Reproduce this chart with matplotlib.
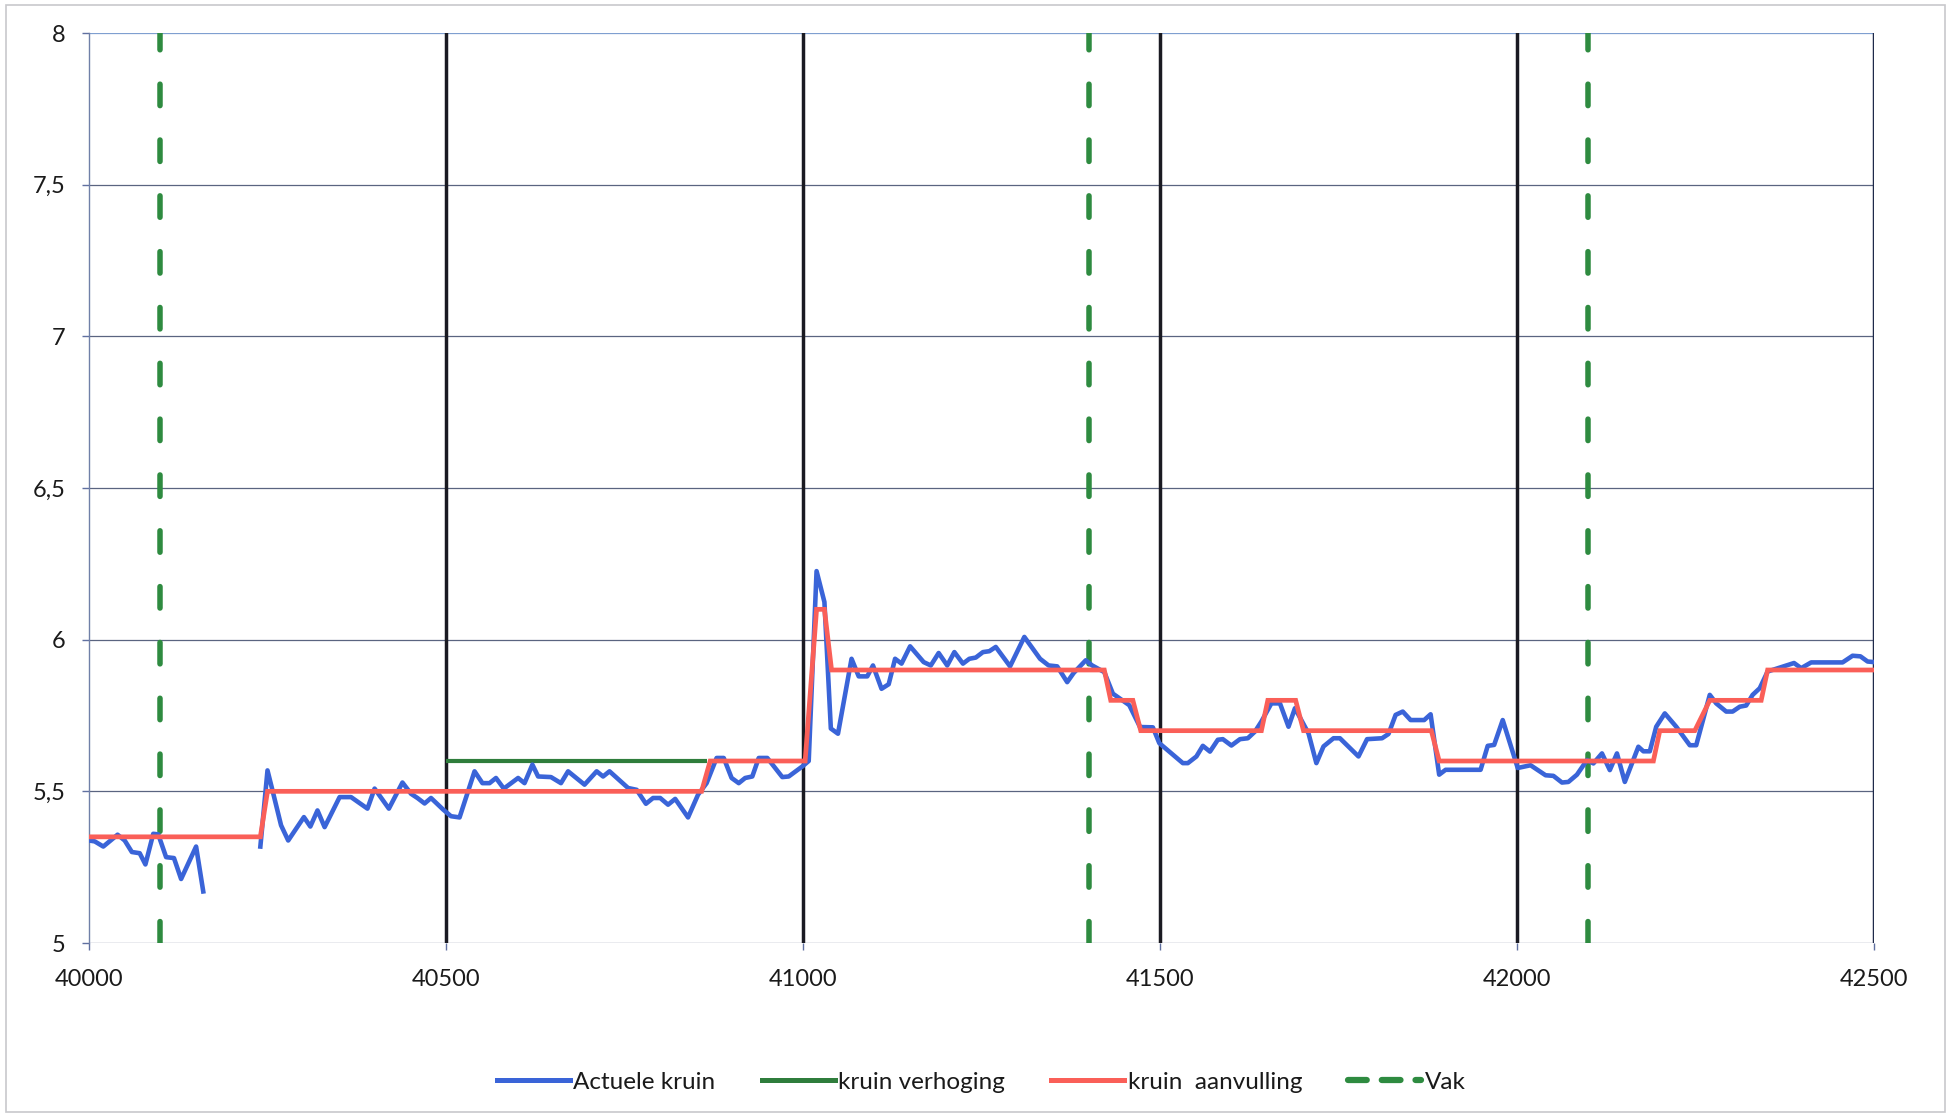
import numpy as np
import matplotlib
matplotlib.use("Agg")
import matplotlib.pyplot as plt
from matplotlib.patches import Rectangle
from matplotlib.lines import Line2D
from matplotlib.ticker import FuncFormatter

plt.rcParams['font.family'] = ['Lato', 'DejaVu Sans']

# Actuele kruin (measured crest height); NaN marks the missing stretch
actueel_x = [40000, 40008, 40020, 40040, 40050, 40060, 40071, 40079, 40090, 40097,
             40108, 40119, 40129, 40150, 40160, 40200,
             40240, 40250, 40257, 40269, 40279, 40301, 40310, 40320, 40330, 40351,
             40367, 40390, 40400, 40420, 40439, 40451, 40460, 40470, 40479, 40496,
             40507, 40519, 40540, 40551, 40561, 40570, 40581, 40601, 40610, 40621,
             40629, 40647, 40661, 40671, 40694, 40711, 40720, 40729, 40755, 40767,
             40780, 40790, 40800, 40811, 40821, 40839, 40853, 40865, 40879, 40889,
             40900, 40910, 40919, 40929, 40938, 40950, 40971, 40980, 40999, 41008,
             41019, 41030, 41039, 41049, 41068, 41078, 41090, 41098, 41110, 41120,
             41129, 41138, 41150, 41169, 41179, 41190, 41202, 41212, 41224, 41233,
             41242, 41252, 41261, 41270, 41290, 41310, 41332, 41344, 41356, 41370,
             41379, 41396, 41405, 41422, 41434, 41457, 41472, 41490, 41499, 41513,
             41532, 41539, 41551, 41560, 41570, 41581, 41588, 41600, 41612, 41623,
             41633, 41642, 41656, 41668, 41680, 41689, 41708, 41719, 41729, 41743,
             41752, 41778, 41790, 41811, 41820, 41830, 41840, 41851, 41870, 41879,
             41891, 41900, 41949, 41959, 41968, 41980, 42001, 42019, 42040, 42051,
             42063, 42072, 42084, 42098, 42107, 42119, 42130, 42140, 42151, 42170,
             42177, 42186, 42195, 42207, 42223, 42242, 42251, 42270, 42279, 42293,
             42302, 42312, 42321, 42330, 42340, 42351, 42388, 42398, 42412, 42456,
             42470, 42481, 42491, 42500]
actueel_y = [5.338, 5.335, 5.318, 5.357, 5.338, 5.300, 5.296, 5.259, 5.360, 5.358,
             5.283, 5.280, 5.211, 5.318, 5.170, np.nan,
             5.318, 5.569, 5.503, 5.388, 5.338, 5.415, 5.384, 5.437, 5.382, 5.481,
             5.481, 5.443, 5.509, 5.443, 5.529, 5.492, 5.478, 5.460, 5.478, 5.440,
             5.418, 5.414, 5.566, 5.527, 5.527, 5.544, 5.509, 5.544, 5.527, 5.588,
             5.549, 5.547, 5.527, 5.566, 5.522, 5.566, 5.549, 5.566, 5.511, 5.505,
             5.459, 5.478, 5.478, 5.456, 5.475, 5.414, 5.489, 5.527, 5.610, 5.610,
             5.544, 5.527, 5.544, 5.549, 5.610, 5.610, 5.547, 5.549, 5.582, 5.600,
             6.226, 6.124, 5.707, 5.690, 5.937, 5.879, 5.879, 5.915, 5.838, 5.853,
             5.937, 5.921, 5.978, 5.926, 5.915, 5.956, 5.915, 5.959, 5.921, 5.937,
             5.941, 5.959, 5.962, 5.976, 5.912, 6.009, 5.937, 5.915, 5.912, 5.860,
             5.890, 5.932, 5.915, 5.893, 5.822, 5.784, 5.712, 5.711, 5.659, 5.631,
             5.593, 5.593, 5.615, 5.650, 5.631, 5.670, 5.672, 5.651, 5.672, 5.675,
             5.697, 5.730, 5.790, 5.790, 5.713, 5.774, 5.691, 5.593, 5.648, 5.675,
             5.675, 5.615, 5.672, 5.675, 5.689, 5.752, 5.763, 5.735, 5.735, 5.754,
             5.555, 5.571, 5.571, 5.650, 5.653, 5.735, 5.577, 5.586, 5.553, 5.551,
             5.529, 5.531, 5.555, 5.603, 5.592, 5.625, 5.570, 5.625, 5.531, 5.647,
             5.632, 5.632, 5.713, 5.757, 5.713, 5.652, 5.652, 5.818, 5.790, 5.763,
             5.763, 5.779, 5.783, 5.818, 5.840, 5.895, 5.923, 5.906, 5.925, 5.925,
             5.947, 5.945, 5.928, 5.926]

# kruin verhoging (crest raising)
verhoging_x = [40500, 40865]
verhoging_y = [5.6, 5.6]

# kruin aanvulling (crest supplement), stepped profile
aanvulling_x = [40000, 40240, 40250, 40858, 40870, 41003, 41019, 41030, 41040, 41422,
                41431, 41462, 41473, 41642, 41651, 41690, 41701, 41880, 41891, 42191,
                42200, 42249, 42270, 42342, 42351, 42500]
aanvulling_y = [5.35, 5.35, 5.5, 5.5, 5.6, 5.6, 6.1, 6.1, 5.9, 5.9,
                5.8, 5.8, 5.7, 5.7, 5.8, 5.8, 5.7, 5.7, 5.6, 5.6,
                5.7, 5.7, 5.8, 5.8, 5.9, 5.9]

# Vak boundaries
vak_x = [40100, 41400, 42100]

# Section boundaries drawn as dark vertical lines
sectie_x = [40500, 41000, 41500, 42000, 42500]

x_ticks = [40000, 40500, 41000, 41500, 42000, 42500]
y_ticks = [5, 5.5, 6, 6.5, 7, 7.5, 8]

W, H = 1951, 1116
fig = plt.figure(figsize=(W / 100, H / 100), dpi=100)
fig.patch.set_facecolor('white')

# Outer chart frame
fig.add_artist(Rectangle((6 / W, 4 / H), (1945 - 6) / W, (1111 - 4) / H,
                         transform=fig.transFigure, fill=False,
                         edgecolor='#c8c8cc', linewidth=1.2))

ax = fig.add_axes([89 / W, 1 - 943 / H, (1874 - 89) / W, (943 - 33) / H])
ax.set_xlim(40000, 42500)
ax.set_ylim(5, 8)

blue = '#3a64d8'
green = '#2f7d3c'
red = '#fa5f58'
vak_green = '#2e8b40'

# Horizontal gridlines
for yv in y_ticks:
    col = '#7f9fd0' if yv == 8 else '#5a6480'
    ax.axhline(yv, color=col, linewidth=0.9, zorder=1)

for xv in sectie_x:
    col = '#1f2a4a' if xv == 42500 else '#1a1a22'
    ax.axvline(xv, color=col, linewidth=2.5, zorder=2)

vak_dash = (0, (3.9, 6.25))
for xv in vak_x:
    ax.axvline(xv, color=vak_green, linewidth=3.96, linestyle=vak_dash,
               dash_capstyle='round', zorder=3)

ax.plot(verhoging_x, verhoging_y, color=green, linewidth=3.0, zorder=4,
        solid_capstyle='butt')
ax.plot(actueel_x, actueel_y, color=blue, linewidth=3.3, zorder=5,
        solid_joinstyle='round')
ax.plot(aanvulling_x, aanvulling_y, color=red, linewidth=3.4, zorder=6,
        solid_joinstyle='miter')

for side in ['top', 'right', 'bottom']:
    ax.spines[side].set_visible(False)
ax.spines['left'].set_color('#7080a8')
ax.spines['left'].set_linewidth(1.0)

ax.set_xticks(x_ticks)
ax.set_yticks(y_ticks)
ax.yaxis.set_major_formatter(FuncFormatter(
    lambda v, p: (('%g' % v).replace('.', ','))))
ax.tick_params(axis='both', which='major', labelsize=17, colors='#6070a0',
               labelcolor='#1a1a1a', length=5, width=1.0, direction='out')
ax.tick_params(axis='x', pad=14)
ax.tick_params(axis='y', pad=12)

handles = [
    Line2D([], [], color=blue, linewidth=3.6),
    Line2D([], [], color=green, linewidth=3.6),
    Line2D([], [], color=red, linewidth=3.6),
    Line2D([], [], color=vak_green, linewidth=4.5, linestyle=(0, (3.0, 2.4)),
           dash_capstyle='round'),
]
labels = ['Actuele kruin', 'kruin verhoging', 'kruin  aanvulling', 'Vak']
fig.legend(handles, labels, loc='center', bbox_to_anchor=(0.503, 1 - 1082 / H),
           ncol=4, frameon=False, fontsize=17.5, handlelength=3.0,
           handletextpad=0.15, columnspacing=1.9, labelcolor='#1a1a1a')

fig.savefig('out.png', dpi=100)
